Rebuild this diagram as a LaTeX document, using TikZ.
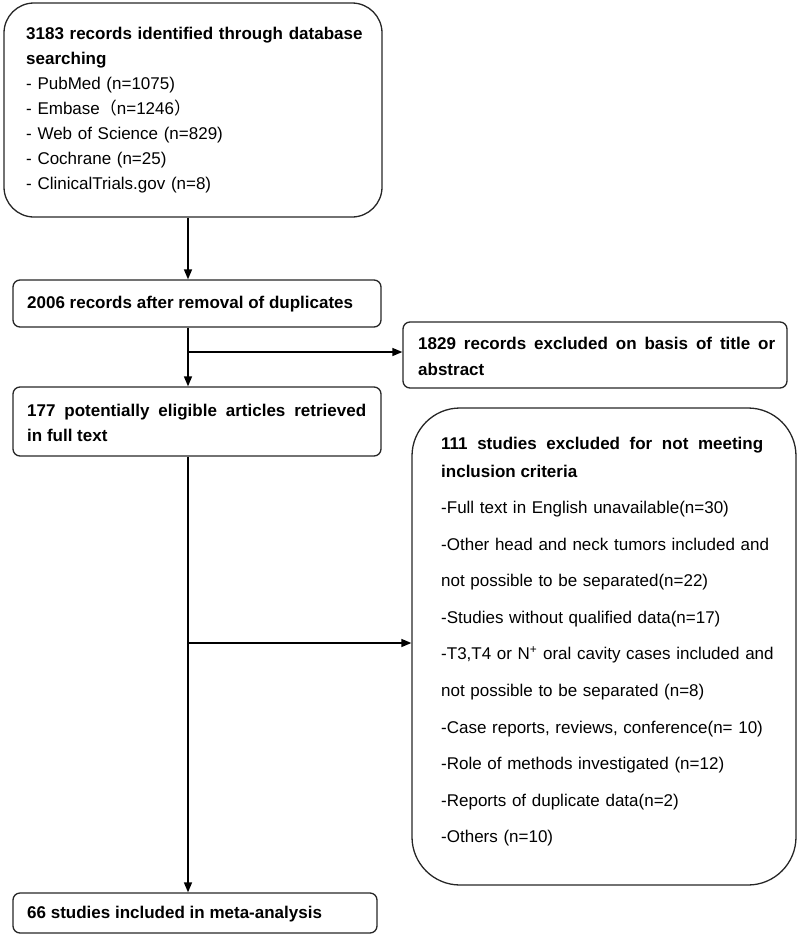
\documentclass[tikz,border=0pt]{standalone}
\usepackage{fontspec}
\setmainfont{Liberation Sans}
\newfontfamily\cjk{Noto Sans CJK SC}
\usetikzlibrary{arrows.meta}
\begin{document}
\begin{tikzpicture}[x=1pt,y=-1pt,
  box/.style={draw=black!85, line width=1.3pt, rounded corners=7pt, inner sep=0pt},
  txt/.style={inner sep=0pt, anchor=north west, font=\fontsize{17}{25}\selectfont},
  arr/.style={line width=1.4pt, -{Triangle[length=10pt,width=8pt]}},
  ]
\useasboundingbox (0,0) rectangle (800,937);
% boxes
\node[box, rounded corners=30pt, minimum width=378pt, minimum height=214pt] (b1) at (193,110) {};
\node[box, minimum width=368pt, minimum height=47pt] (b2) at (197,303.5) {};
\node[box, minimum width=384pt, minimum height=66pt] (b3) at (595,355) {};
\node[box, minimum width=368pt, minimum height=69pt] (b4) at (197,421.5) {};
\node[box, rounded corners=48pt, minimum width=384pt, minimum height=477pt] (b5) at (604,646.5) {};
\node[box, minimum width=364pt, minimum height=40pt] (b6) at (195,913) {};
% texts
\node[txt, text width=345pt, align=left] (t1) at (26,27) {\textbf{3183 records identified through database searching}\\
- PubMed (n=1075)\\
- Embase{\cjk（}n=1246{\cjk）}\\
- Web of Science (n=829)\\
- Cochrane (n=25)\\
- ClinicalTrials.gov (n=8)};
\node[txt, font=\fontsize{17}{25}\selectfont\bfseries] (t2) at (27,296) {2006 records after removal of duplicates};
\node[txt, text width=357pt, align=justify, font=\fontsize{17}{26}\selectfont\bfseries] (t3) at (418,337) {1829 records excluded on basis of title or\linebreak abstract};
\node[txt, text width=339pt, align=justify, font=\fontsize{17}{25}\selectfont\bfseries] (t4) at (27,404) {177 potentially eligible articles retrieved\linebreak in full text};
\node[txt, text width=322pt, align=justify, font=\fontsize{17}{28}\selectfont\bfseries] (t5a) at (441,437) {111 studies excluded for not meeting\linebreak inclusion criteria};
\node[txt, text width=340pt, align=left, font=\fontsize{17}{36.6}\selectfont] (t5b) at (441,501) {-Full text in English unavailable(n=30)\\
-Other head and neck tumors included and\\
not possible to be separated(n=22)\\
-Studies without qualified data(n=17)\\
-T3,T4 or N\textsuperscript{+} oral cavity cases included and\\
not possible to be separated (n=8)\\
-Case reports, reviews, conference(n= 10)\\
-Role of methods investigated (n=12)\\
-Reports of duplicate data(n=2)\\
-Others (n=10)};
\node[txt, font=\fontsize{17}{25}\selectfont\bfseries] (t6) at (27,906) {66 studies included in meta-analysis};
% connectors
\coordinate (c1) at (188,352);
\coordinate (c2) at (188,643);
\draw[arr] (b1.south -| c1) -- (b2.north -| c1);
\draw[arr] (b2.south -| c1) -- (b4.north -| c1);
\draw[arr] (c1) -- (b3.west |- c1);
\draw[arr] (b4.south -| c1) -- (b6.north -| c1);
\draw[arr] (c2) -- (b5.west |- c2);
\end{tikzpicture}
\end{document}
